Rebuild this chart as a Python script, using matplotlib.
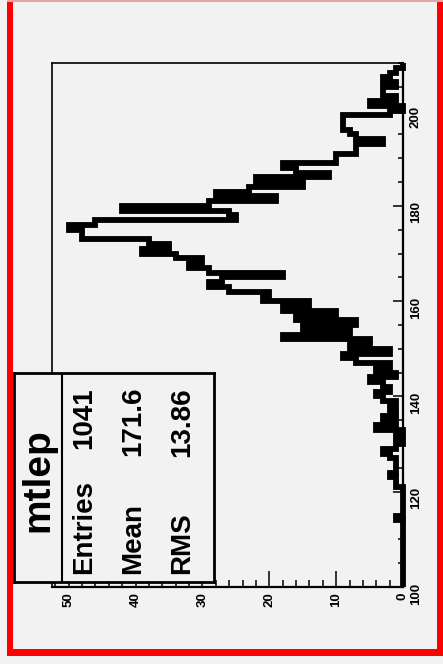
import matplotlib
matplotlib.use('Agg')
import matplotlib.pyplot as plt
import numpy as np
from matplotlib.patches import Rectangle
from matplotlib.ticker import MultipleLocator

plt.rcParams['font.family'] = ['Liberation Sans', 'DejaVu Sans']

# histogram "mtlep": 1 GeV bins from 100 to 210
edges = np.arange(100, 211, 1)
counts = [0, 0, 0, 0, 0, 0, 0, 0, 0, 0,          # 100-109
          0, 0, 0, 0, 1, 0, 0, 0, 0, 0,          # 110-119
          0, 1, 1, 2, 1, 1, 1, 2, 3, 1,          # 120-129
          0, 1, 0, 4, 1, 3, 1, 2, 1, 3,          # 130-139
          4, 2, 3, 5, 1, 4, 2, 7, 9, 2,          # 140-149
          8, 5, 18, 8, 15, 7, 16, 10, 18, 14,    # 150-159
          21, 20, 26, 29, 27, 18, 29, 32, 30, 34,  # 160-169
          39, 35, 38, 48, 48, 50, 46, 25, 26, 42,  # 170-179
          29, 19, 28, 23, 15, 22, 11, 16, 18, 10,  # 180-189
          10, 7, 7, 3, 7, 8, 9, 9, 9, 2,           # 190-199
          0, 5, 1, 3, 3, 1, 3, 2, 1, 0]            # 200-209

hist_name = 'mtlep'
stat_names = ['Entries', 'Mean', 'RMS']
stat_values = ['1041', '171.6', '13.86']

W, H = 443, 664
bg = '#f2f2f2'


def fx(px):
    return px / W


def fy(py):
    return 1 - py / H


fig = plt.figure(figsize=(W / 100, H / 100), dpi=100, facecolor=bg)

# red canvas border
red = '#ff0000'
fig.add_artist(Rectangle((fx(7), fy(656)), fx(6), fy(1) - fy(656), color=red, lw=0))
fig.add_artist(Rectangle((fx(437), fy(656)), fx(6), fy(1) - fy(656), color=red, lw=0))
fig.add_artist(Rectangle((fx(7), fy(656)), fx(436), fy(649) - fy(656), color=red, lw=0))
fig.add_artist(Rectangle((fx(7), fy(2)), fx(436), fy(0) - fy(2), color='#e0a8a8', lw=0))

# main frame (drawn rotated: mass runs upwards, counts run to the left)
ax = fig.add_axes([fx(52), fy(587), fx(403) - fx(52), fy(63) - fy(587)])
ax.set_facecolor(bg)
ax.stairs(counts, edges, orientation='horizontal', baseline=None,
          color='black', lw=4.2, joinstyle='miter', clip_on=False)
ax.set_xlim(52.5, 0)
ax.set_ylim(100, 210)

for side in ['left', 'top']:
    ax.spines[side].set_linewidth(1.2)
for side in ['right', 'bottom']:
    ax.spines[side].set_linewidth(1.6)

ax.yaxis.tick_right()
ax.yaxis.set_major_locator(MultipleLocator(20))
ax.yaxis.set_minor_locator(MultipleLocator(5))
ax.xaxis.set_major_locator(MultipleLocator(10))
ax.xaxis.set_minor_locator(MultipleLocator(2))

ax.tick_params(axis='y', which='both', direction='in', labelrotation=90,
               labelsize=9.5, pad=5, width=1.1)
ax.tick_params(axis='y', which='major', length=7)
ax.tick_params(axis='y', which='minor', length=3.5)
ax.tick_params(axis='x', which='both', direction='in', labelrotation=90,
               labelsize=9.5, pad=4, width=1.1)
ax.tick_params(axis='x', which='major', length=11.5)
ax.tick_params(axis='x', which='minor', length=5)
for lab in ax.get_xticklabels() + ax.get_yticklabels():
    lab.set_fontweight('bold')

# stats box
sb = fig.add_axes([fx(14), fy(582), fx(214) - fx(14), fy(373) - fy(582)])
sb.set_facecolor(bg)
sb.set_xlim(0, 1)
sb.set_ylim(0, 1)
sb.set_xticks([])
sb.set_yticks([])
for s in sb.spines.values():
    s.set_linewidth(2)
sb.axvline((62 - 14) / 200, color='black', lw=1.5)

fig.text(fx(38), fy(480), hist_name, rotation=90, ha='center', va='center',
         fontsize=28, fontweight='bold')
cols = [84, 133, 182]
for xc, name, val in zip(cols, stat_names, stat_values):
    fig.text(fx(xc), fy(574), name, rotation=90, ha='center', va='bottom',
             fontsize=20, fontweight='bold')
    fig.text(fx(xc), fy(387), val, rotation=90, ha='center', va='top',
             fontsize=20, fontweight='bold')

fig.savefig('out.png', dpi=100, facecolor=bg)
